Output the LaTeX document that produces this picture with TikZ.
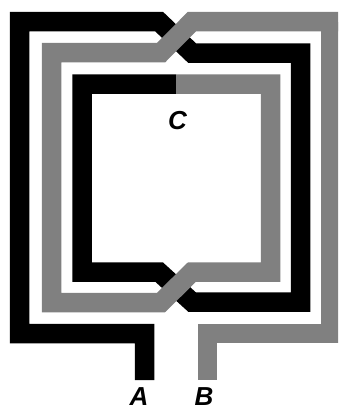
\documentclass[tikz,border=0pt]{standalone}
\usepackage{fontspec}
\setmainfont{Liberation Sans}
\definecolor{wiregray}{HTML}{808080}
\tikzset{
  wire/.style={line width=19.5pt,line cap=butt,line join=miter,miter limit=10},
  blackwire/.style={wire,draw=black},
  graywire/.style={wire,draw=wiregray},
  lab/.style={font=\fontsize{26}{26}\selectfont\bfseries\itshape,text=black,inner sep=0pt,anchor=base}
}
\begin{document}
\begin{tikzpicture}[x=1pt,y=-1pt]
\path[use as bounding box] (0,0) rectangle (338,407);
\clip (0,0) rectangle (338,407);
% black winding
\draw[blackwire] (144.5,380) -- (144.5,333.5) -- (19.5,333.5) -- (19.5,21.5) -- (159,21.5) -- (192,53) -- (300.5,53) -- (300.5,302) -- (192,302) -- (159,272) -- (82,272) -- (82,84) -- (176,84);
% gray winding
\draw[graywire] (176,84) -- (270.5,84) -- (270.5,272) -- (192,272) -- (161,302.5) -- (51.7,302.5) -- (51.7,52.7) -- (161,52.7) -- (192,21.5) -- (345,21.5);
\draw[graywire] (330.5,21.5) -- (330.5,333.5) -- (207.5,333.5) -- (207.5,380);
\node[lab] (C) at (177.5,129.5) {C};
\node[lab] (A) at (139,405.5) {A};
\node[lab] (B) at (204,405.5) {B};
\end{tikzpicture}
\end{document}
